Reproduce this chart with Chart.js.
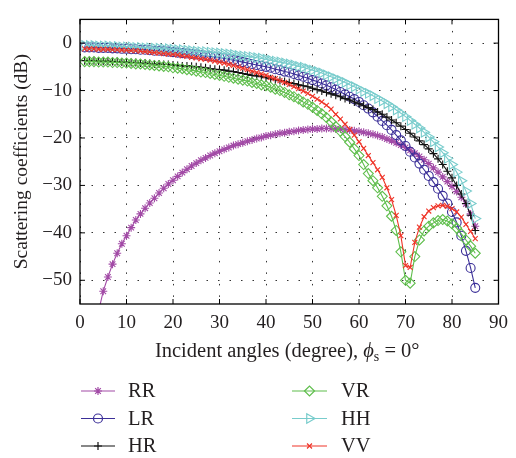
<!DOCTYPE html>
<html>
<head>
<meta charset="utf-8">
<script src="https://cdn.jsdelivr.net/npm/chart.js@4.4.1/dist/chart.umd.min.js"></script>
<style>
  html, body { margin: 0; padding: 0; background: #fff; }
  #wrap { width: 516px; height: 458px; }
</style>
</head>
<body>
<div id="wrap"><canvas id="chart" width="516" height="458"></canvas></div>
<script>
// incident angles (degree)
const angles = [1,2,3,4,5,6,7,8,9,10,11,12,13,14,15,16,17,18,19,20,
  21,22,23,24,25,26,27,28,29,30,31,32,33,34,35,36,37,38,39,40,
  41,42,43,44,45,46,47,48,49,50,51,52,53,54,55,56,57,58,59,60,
  61,62,63,64,65,66,67,68,69,70,71,72,73,74,75,76,77,78,79,80,
  81,82,83,84,85];

const xTicks = [0, 10, 20, 30, 40, 50, 60, 70, 80, 90];
const yTicks = [0, -10, -20, -30, -40, -50];

// scattering coefficients (dB)
const rr = [null,null,null,-56.5,-52.3,-49.3,-46.6,-44.3,-42.3,-40.6,
  -38.9,-37.3,-36.0,-34.8,-33.7,-32.7,-31.6,-30.6,-29.7,-28.9,
  -28.1,-27.3,-26.6,-25.9,-25.3,-24.7,-24.2,-23.7,-23.2,-22.8,
  -22.4,-22.0,-21.6,-21.3,-21.0,-20.7,-20.4,-20.1,-19.9,-19.6,
  -19.4,-19.2,-19.0,-18.9,-18.7,-18.6,-18.4,-18.3,-18.2,-18.1,
  -18.1,-18.0,-18.0,-18.0,-18.1,-18.1,-18.2,-18.3,-18.5,-18.6,
  -18.8,-19.0,-19.2,-19.5,-19.8,-20.2,-20.6,-21.0,-21.5,-22.0,
  -22.6,-23.2,-23.9,-24.6,-25.4,-26.3,-27.2,-28.2,-29.2,-30.2,
  -31.3,-32.5,-33.9,-36.0,-38.6];

const lr = [-0.9,-0.9,-0.9,-1.0,-1.0,-1.0,-1.1,-1.1,-1.2,-1.2,
  -1.3,-1.3,-1.4,-1.4,-1.5,-1.6,-1.6,-1.7,-1.8,-1.9,
  -2.0,-2.1,-2.2,-2.3,-2.4,-2.5,-2.7,-2.8,-2.9,-3.1,
  -3.2,-3.4,-3.6,-3.8,-4.0,-4.2,-4.4,-4.6,-4.8,-5.0,
  -5.2,-5.5,-5.7,-6.0,-6.2,-6.5,-6.8,-7.1,-7.4,-7.8,
  -8.1,-8.5,-8.9,-9.3,-9.8,-10.3,-10.8,-11.3,-11.8,-12.4,
  -13.1,-13.8,-14.6,-15.5,-16.4,-17.3,-18.3,-19.4,-20.5,-21.7,
  -22.9,-24.1,-25.4,-26.7,-28.0,-29.3,-30.7,-32.2,-33.8,-35.6,
  -37.8,-40.6,-43.8,-47.4,-51.6];

const hr = [-3.7,-3.7,-3.7,-3.8,-3.8,-3.8,-3.9,-3.9,-4.0,-4.0,
  -4.1,-4.1,-4.2,-4.2,-4.3,-4.4,-4.4,-4.5,-4.5,-4.6,
  -4.7,-4.8,-4.8,-4.9,-5.0,-5.1,-5.2,-5.4,-5.5,-5.6,
  -5.7,-5.9,-6.0,-6.2,-6.4,-6.6,-6.8,-6.9,-7.1,-7.3,
  -7.5,-7.7,-7.9,-8.1,-8.3,-8.5,-8.8,-9.0,-9.2,-9.5,
  -9.8,-10.1,-10.4,-10.7,-11.0,-11.3,-11.7,-12.0,-12.4,-12.8,
  -13.2,-13.6,-14.0,-14.5,-15.0,-15.6,-16.2,-16.8,-17.5,-18.2,
  -19.0,-19.8,-20.6,-21.4,-22.3,-23.3,-24.4,-25.6,-27.0,-28.4,
  -30.0,-31.8,-33.8,-36.3,-39.5];

const vr = [-3.9,-3.9,-3.9,-4.0,-4.0,-4.0,-4.1,-4.1,-4.2,-4.2,
  -4.3,-4.4,-4.4,-4.5,-4.6,-4.7,-4.8,-4.9,-5.0,-5.2,
  -5.3,-5.4,-5.6,-5.7,-5.9,-6.1,-6.2,-6.4,-6.6,-6.8,
  -7.0,-7.2,-7.4,-7.6,-7.8,-8.0,-8.3,-8.5,-8.8,-9.0,
  -9.3,-9.7,-10.0,-10.4,-10.9,-11.3,-11.8,-12.4,-12.9,-13.5,
  -14.2,-14.9,-15.7,-16.6,-17.6,-18.6,-19.7,-20.9,-22.3,-23.7,
  -25.6,-27.5,-29.0,-30.5,-32.3,-34.3,-36.5,-39.5,-44.0,-50.0,
  -50.6,-45.0,-41.5,-39.6,-38.6,-37.9,-37.4,-37.2,-37.5,-38.1,
  -39.0,-40.2,-41.5,-42.8,-44.3];

const hh = [-0.5,-0.5,-0.5,-0.6,-0.6,-0.6,-0.7,-0.7,-0.8,-0.8,
  -0.8,-0.9,-0.9,-1.0,-1.0,-1.1,-1.1,-1.2,-1.2,-1.3,
  -1.4,-1.4,-1.5,-1.6,-1.7,-1.8,-1.8,-1.9,-2.0,-2.1,
  -2.2,-2.3,-2.4,-2.6,-2.7,-2.8,-2.9,-3.1,-3.2,-3.4,
  -3.6,-3.8,-4.0,-4.2,-4.4,-4.6,-4.9,-5.1,-5.4,-5.7,
  -6.0,-6.3,-6.7,-7.1,-7.5,-7.9,-8.3,-8.8,-9.2,-9.7,
  -10.2,-10.6,-11.1,-11.7,-12.2,-12.8,-13.4,-14.1,-14.8,-15.5,
  -16.3,-17.1,-17.9,-18.8,-19.8,-20.8,-21.9,-23.1,-24.3,-25.6,
  -27.2,-29.0,-31.2,-33.8,-37.0];

const vv = [-1.2,-1.2,-1.2,-1.3,-1.3,-1.3,-1.4,-1.4,-1.5,-1.5,
  -1.6,-1.6,-1.7,-1.8,-1.9,-2.0,-2.1,-2.2,-2.3,-2.4,
  -2.5,-2.7,-2.8,-3.0,-3.1,-3.3,-3.4,-3.6,-3.8,-4.0,
  -4.2,-4.5,-4.7,-5.0,-5.3,-5.6,-5.9,-6.2,-6.5,-6.8,
  -7.2,-7.5,-7.9,-8.3,-8.7,-9.2,-9.6,-10.1,-10.6,-11.2,
  -11.8,-12.4,-13.1,-13.9,-15.0,-16.0,-17.1,-18.2,-19.4,-20.8,
  -22.2,-23.7,-25.2,-26.7,-28.3,-30.5,-33.0,-36.3,-40.6,-46.9,
  -47.3,-42.0,-38.8,-36.6,-35.4,-34.7,-34.3,-34.2,-34.4,-34.9,
  -35.6,-36.7,-38.2,-39.7,-41.2];

const serif = '"Liberation Serif", "DejaVu Serif", serif';
const textColor = "#231f20";

function series(label, values, color, style, radius, rotation) {
  return {
    label: label,
    data: angles.map((a, i) => ({ x: a, y: values[i] })),
    borderColor: color,
    borderWidth: 1.1,
    backgroundColor: "rgba(0,0,0,0)",
    pointStyle: style,
    pointRadius: radius,
    pointRotation: rotation || 0,
    pointBorderColor: color,
    pointBackgroundColor: "rgba(0,0,0,0)",
    pointBorderWidth: 1.1,
    tension: 0,
    spanGaps: false
  };
}

const datasets = [
  series("RR", rr, "#a24aa6", "star", 4),
  series("LR", lr, "#3b2f98", "circle", 4.5),
  series("HR", hr, "#111111", "cross", 4),
  series("VR", vr, "#5fbe4c", "rectRot", 5),
  series("HH", hh, "#78cccc", "triangle", 5.5, 90),
  series("VV", vv, "#ef3428", "crossRot", 3.5)
];
// later series drawn on top, like the original
datasets.forEach((d, i) => { d.order = datasets.length - i; });

function fmtMinus(v) {
  return v < 0 ? "\u2212" + Math.abs(v) : String(v);
}

// box, inner ticks, x title and legend
const decorations = {
  id: "decorations",
  afterDraw(chart) {
    const ctx = chart.ctx;
    const area = chart.chartArea;
    const xs = chart.scales.x;
    const ys = chart.scales.y;

    ctx.save();
    ctx.strokeStyle = "#000";
    ctx.lineWidth = 1.3;
    ctx.strokeRect(area.left, area.top, area.right - area.left, area.bottom - area.top);

    ctx.lineWidth = 1;
    const tl = 5;
    ctx.beginPath();
    xTicks.forEach(v => {
      const px = xs.getPixelForValue(v);
      ctx.moveTo(px, area.bottom); ctx.lineTo(px, area.bottom - tl);
      ctx.moveTo(px, area.top); ctx.lineTo(px, area.top + tl);
    });
    yTicks.forEach(v => {
      const py = ys.getPixelForValue(v);
      ctx.moveTo(area.left, py); ctx.lineTo(area.left + tl, py);
      ctx.moveTo(area.right, py); ctx.lineTo(area.right - tl, py);
    });
    ctx.stroke();

    // x axis title with subscript
    const parts = [
      { t: "Incident angles (degree), ", f: "20.5px " + serif, dy: 0 },
      { t: "\u03D5", f: "italic 20.5px " + serif, dy: 0 },
      { t: "s", f: "14px " + serif, dy: 4 },
      { t: " = 0\u00B0", f: "20.5px " + serif, dy: 0 }
    ];
    let total = 0;
    parts.forEach(p => { ctx.font = p.f; p.w = ctx.measureText(p.t).width; total += p.w; });
    let x = (area.left + area.right) / 2 - total / 2 - 2;
    const base = 357;
    ctx.fillStyle = textColor;
    ctx.textBaseline = "alphabetic";
    ctx.textAlign = "left";
    parts.forEach(p => {
      ctx.font = p.f;
      ctx.fillText(p.t, x, base + p.dy);
      x += p.w;
    });

    // legend, two columns
    const cols = [{ x0: 81, x1: 115, tx: 128 }, { x0: 292, x1: 327, tx: 341 }];
    const rowY = [391, 418.5, 446];
    chart.data.datasets.forEach((d, i) => {
      const c = cols[Math.floor(i / 3)];
      const y = rowY[i % 3];
      ctx.strokeStyle = d.borderColor;
      ctx.lineWidth = 1.2;
      ctx.beginPath();
      ctx.moveTo(c.x0, y); ctx.lineTo(c.x1, y);
      ctx.stroke();
      ctx.fillStyle = "rgba(0,0,0,0)";
      Chart.helpers.drawPoint(ctx, {
        pointStyle: d.pointStyle,
        radius: d.pointRadius,
        rotation: d.pointRotation,
        borderWidth: 1
      }, (c.x0 + c.x1) / 2, y);
      ctx.fillStyle = textColor;
      ctx.font = "20.5px " + serif;
      ctx.textBaseline = "middle";
      ctx.fillText(d.label, c.tx, y + 1);
    });
    ctx.restore();
  }
};

new Chart(document.getElementById("chart"), {
  type: "line",
  data: { datasets: datasets },
  options: {
    responsive: false,
    devicePixelRatio: 1,
    animation: false,
    layout: { padding: { top: 6, right: 10, left: 0, bottom: 0 } },
    plugins: {
      legend: { display: false },
      tooltip: { enabled: false }
    },
    scales: {
      x: {
        type: "linear",
        min: 0,
        max: 90,
        afterBuildTicks: s => { s.ticks = xTicks.map(v => ({ value: v })); },
        afterFit: s => { s.height = 154; },
        grid: { color: "#333", lineWidth: 1, drawTicks: false },
        border: { display: false, dash: [1.5, 10] },
        ticks: { color: textColor, font: { family: serif, size: 19 }, padding: 8, maxRotation: 0 }
      },
      y: {
        type: "linear",
        min: -55,
        max: 5,
        afterBuildTicks: s => { s.ticks = yTicks.map(v => ({ value: v })); },
        afterFit: s => { s.width = 80; },
        grid: { color: "#333", lineWidth: 1, drawTicks: false },
        border: { display: false, dash: [1.5, 10] },
        ticks: { color: textColor, font: { family: serif, size: 19 }, padding: 8, callback: v => fmtMinus(v) },
        title: {
          display: true,
          text: "Scattering coefficients (dB)",
          color: textColor,
          font: { family: serif, size: 19.5, lineHeight: 1.2 },
          padding: { top: 10, bottom: 0 }
        }
      }
    }
  },
  plugins: [decorations]
});
</script>
</body>
</html>
